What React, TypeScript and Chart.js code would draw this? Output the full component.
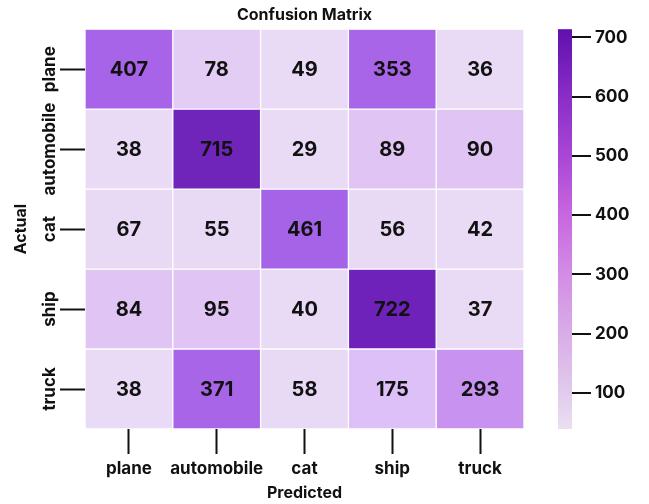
import React, { useEffect, useRef } from "react";
import { Chart, registerables } from "chart.js";

Chart.register(...registerables);

const predictedLabels = ["plane", "automobile", "cat", "ship", "truck"];
const actualLabels = ["plane", "automobile", "cat", "ship", "truck"];
const planeRow = [407, 78, 49, 353, 36];
const automobileRow = [38, 715, 29, 89, 90];
const catRow = [67, 55, 461, 56, 42];
const shipRow = [84, 95, 40, 722, 37];
const truckRow = [38, 371, 58, 175, 293];
const colorbarTicks = [100, 200, 300, 400, 500, 600, 700];
const colorbarMin = 39;
const colorbarMax = 714;

const matrix = [planeRow, automobileRow, catRow, shipRow, truckRow];

const FONT = "Inter";
const INK = "#111111";

// cell colormap stops (value -> rgb)
const cellStops: [number, number[]][] = [
  [29, [233, 219, 245]],
  [70, [232, 218, 245]],
  [84, [223, 196, 244]],
  [95, [223, 196, 244]],
  [175, [222, 192, 248]],
  [293, [200, 146, 240]],
  [353, [168, 101, 232]],
  [461, [165, 99, 231]],
  [722, [110, 34, 185]],
];

// colorbar gradient stops (value -> color)
const barStops: [number, string][] = [
  [39, "#eadff0"],
  [100, "#e1cbec"],
  [200, "#d9ade8"],
  [300, "#d28de5"],
  [400, "#c867e0"],
  [500, "#a947d5"],
  [600, "#8a2dc7"],
  [714, "#6010ad"],
];

function cellColor(v: number): string {
  if (v <= cellStops[0][0]) return `rgb(${cellStops[0][1].join(",")})`;
  for (let i = 1; i < cellStops.length; i++) {
    const [v1, c1] = cellStops[i];
    const [v0, c0] = cellStops[i - 1];
    if (v <= v1) {
      const t = (v - v0) / (v1 - v0);
      const c = c0.map((a, k) => Math.round(a + (c1[k] - a) * t));
      return `rgb(${c.join(",")})`;
    }
  }
  return `rgb(${cellStops[cellStops.length - 1][1].join(",")})`;
}

const heatmapPlugin = {
  id: "heatmapExtras",
  afterDatasetsDraw(chart: any) {
    const ctx = chart.ctx;
    ctx.save();
    ctx.font = `bold 20px ${FONT}`;
    ctx.fillStyle = INK;
    ctx.textAlign = "center";
    ctx.textBaseline = "middle";
    chart.data.datasets.forEach((_ds: any, di: number) => {
      const meta = chart.getDatasetMeta(di);
      meta.data.forEach((el: any, ci: number) => {
        const p = el.getProps(["x", "y", "base"], true);
        ctx.fillText(String(matrix[di][ci]), p.x, (p.y + p.base) / 2 + 1);
      });
    });
    ctx.restore();
  },
  afterDraw(chart: any) {
    const ctx = chart.ctx;
    // y tick labels, rotated
    const ys = chart.scales.y;
    ctx.save();
    ctx.font = `bold 17px ${FONT}`;
    ctx.fillStyle = INK;
    ctx.textAlign = "center";
    ctx.textBaseline = "middle";
    ys.ticks.forEach((t: any, i: number) => {
      const py = ys.getPixelForValue(t.value);
      ctx.save();
      ctx.translate(ys.right - 25 - 10, py);
      ctx.rotate(-Math.PI / 2);
      ctx.fillText(actualLabels[i], 0, 0);
      ctx.restore();
    });
    ctx.restore();

    // colorbar
    const cb = chart.scales.cb;
    const x0 = cb.left + 34;
    const x1 = cb.left + 48;
    const yTop = cb.getPixelForValue(colorbarMax);
    const yBot = cb.getPixelForValue(colorbarMin);
    const grad = ctx.createLinearGradient(0, yBot, 0, yTop);
    barStops.forEach(([v, c]) => {
      const pos = (cb.getPixelForValue(v) - yBot) / (yTop - yBot);
      grad.addColorStop(Math.min(1, Math.max(0, pos)), c);
    });
    ctx.save();
    ctx.fillStyle = grad;
    ctx.fillRect(x0, yTop, x1 - x0, yBot - yTop);
    ctx.strokeStyle = INK;
    ctx.lineWidth = 2;
    colorbarTicks.forEach((v) => {
      const py = Math.round(cb.getPixelForValue(v));
      ctx.beginPath();
      ctx.moveTo(x1, py);
      ctx.lineTo(x1 + 19, py);
      ctx.stroke();
    });
    ctx.restore();
  },
};

export default function App() {
  const canvasRef = useRef<HTMLCanvasElement | null>(null);

  useEffect(() => {
    document.body.style.margin = "0";
    const canvas = canvasRef.current;
    if (!canvas) return;

    const datasets = actualLabels.map((row, ri) => ({
      label: row,
      data: predictedLabels.map(() => 1),
      backgroundColor: matrix[ri].map((v) => cellColor(v)),
      borderColor: "rgba(255,255,255,0.35)",
      borderWidth: 1,
      borderSkipped: false,
      barPercentage: 1,
      categoryPercentage: 1,
    }));

    const zeroPad = (scale: any) => {
      scale.paddingTop = 0;
      scale.paddingBottom = 0;
      scale.paddingLeft = 0;
      scale.paddingRight = 0;
    };

    const chart = new Chart(canvas, {
      type: "bar",
      data: { labels: predictedLabels, datasets },
      plugins: [heatmapPlugin],
      options: {
        animation: false,
        responsive: true,
        maintainAspectRatio: false,
        layout: { padding: 0 },
        plugins: {
          legend: { display: false },
          tooltip: { enabled: false },
          title: {
            display: true,
            text: "Confusion Matrix",
            fullSize: false,
            color: INK,
            font: { family: FONT, size: 16, weight: "bold", lineHeight: 1.2 },
            padding: { top: 6, bottom: 4 },
          },
        },
        scales: {
          x: {
            type: "category",
            stacked: true,
            offset: true,
            border: { display: false },
            grid: {
              drawOnChartArea: false,
              drawTicks: true,
              tickLength: 25,
              tickWidth: 2,
              tickColor: INK,
              offset: false,
            },
            ticks: {
              color: INK,
              font: { family: FONT, size: 17, weight: "bold" },
              padding: 5,
              maxRotation: 0,
              minRotation: 0,
              autoSkip: false,
            },
            title: {
              display: true,
              text: "Predicted",
              color: INK,
              font: { family: FONT, size: 16, weight: "bold", lineHeight: 1.2 },
              padding: { top: 0, bottom: 1 },
            },
            afterFit(scale: any) {
              scale.height = 75;
              zeroPad(scale);
            },
          },
          y: {
            type: "linear",
            position: "left",
            stacked: true,
            reverse: true,
            min: 0,
            max: 5,
            border: { display: false },
            grid: {
              drawOnChartArea: false,
              drawTicks: true,
              tickLength: 25,
              tickWidth: 2,
              tickColor: INK,
            },
            ticks: { display: false },
            afterBuildTicks(scale: any) {
              scale.ticks = actualLabels.map((_l, i) => ({ value: i + 0.5 }));
            },
            title: {
              display: true,
              text: "Actual",
              color: INK,
              font: { family: FONT, size: 16, weight: "bold", lineHeight: 1.2 },
              padding: { top: 12, bottom: 0 },
            },
            afterFit(scale: any) {
              scale.width = 85;
              zeroPad(scale);
            },
          },
          cb: {
            type: "linear",
            position: "right",
            min: colorbarMin,
            max: colorbarMax,
            border: { display: false },
            grid: { display: false, drawTicks: false },
            ticks: {
              color: INK,
              font: { family: FONT, size: 17, weight: "bold" },
              padding: 71,
            },
            afterBuildTicks(scale: any) {
              scale.ticks = colorbarTicks.map((v) => ({ value: v }));
            },
            afterFit(scale: any) {
              scale.width = 125;
              zeroPad(scale);
            },
          },
        },
      } as any,
    });

    return () => chart.destroy();
  }, []);

  return (
    <div style={{ position: "relative", width: 649, height: 504 }}>
      <canvas ref={canvasRef} />
    </div>
  );
}
